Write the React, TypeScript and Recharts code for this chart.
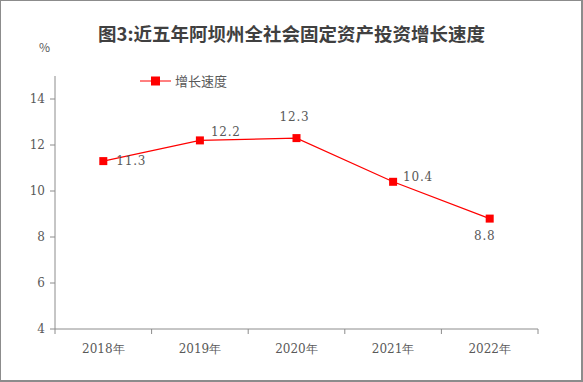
import React from 'react';
import { LineChart, Line, XAxis, YAxis, LabelList } from 'recharts';

const categories = ['2018年', '2019年', '2020年', '2021年', '2022年'];
const growth = [11.3, 12.2, 12.3, 10.4, 8.8];
const yTicks = [4, 6, 8, 10, 12, 14];
const seriesName = '增长速度';
const title = '图3:近五年阿坝州全社会固定资产投资增长速度';

const data = categories.map((c, i) => ({ idx: i, name: c, growth: growth[i] }));

const W = 583;
const H = 382;
const MARGIN = { top: 76, right: 45, bottom: 23, left: 0 };
const Y_W = 55;
const HALF_BAND = (W - MARGIN.left - Y_W - MARGIN.right) / categories.length / 2;

const AXIS_COLOR = '#8c8c8c';
const TEXT_COLOR = '#595959';
const RED = '#FF0000';
const SERIF = '"DejaVu Serif", "Liberation Serif", serif';
const SANS = '"Noto Sans CJK SC", "Noto Sans", sans-serif';

// label placement per point: [dx, dy, anchor]
const labelPlacement: [number, number, 'start' | 'middle' | 'end'][] = [
  [13, 4, 'start'],
  [11, -4, 'start'],
  [-2, -17, 'middle'],
  [10, -1, 'start'],
  [-5, 21, 'middle'],
];

const XTick = (props: any) => {
  const { x, y, payload, index } = props;
  const label = categories[payload.value];
  return (
    <g>
      <line x1={x - HALF_BAND} x2={x - HALF_BAND} y1={y} y2={y + 5} stroke={AXIS_COLOR} />
      {index === categories.length - 1 && (
        <line x1={x + HALF_BAND} x2={x + HALF_BAND} y1={y} y2={y + 5} stroke={AXIS_COLOR} />
      )}
      <text x={x} y={y + 24} textAnchor="middle" fill={TEXT_COLOR} fontFamily={SERIF} fontSize={12}>
        {label}
      </text>
    </g>
  );
};

const Dot = (props: any) => {
  const { cx, cy, index } = props;
  return <rect key={`d${index}`} x={cx - 4} y={cy - 4} width={8} height={8} fill={RED} />;
};

const PointLabel = (props: any) => {
  const { x, y, value, index } = props;
  const [dx, dy, anchor] = labelPlacement[index];
  return (
    <text
      x={x + dx}
      y={y + dy}
      textAnchor={anchor}
      fill={TEXT_COLOR}
      fontFamily={SERIF}
      fontSize={12}
      letterSpacing={0.8}
    >
      {value}
    </text>
  );
};

export default function App() {
  return (
    <div
      style={{
        position: 'absolute',
        left: 0,
        top: 0,
        width: W,
        height: H,
        background: '#fff',
      }}
    >
      <div
        style={{
          position: 'absolute',
          left: 0,
          top: 0,
          width: W,
          height: H,
          boxSizing: 'border-box',
          borderTop: '1px solid #8c8c8c',
          borderLeft: '1px solid #8c8c8c',
          borderRight: '2px solid #8c8c8c',
          borderBottom: '2px solid #8c8c8c',
          pointerEvents: 'none',
          zIndex: 2,
        }}
      />
      <div
        style={{
          position: 'absolute',
          left: 0,
          top: 20,
          width: 583,
          textAlign: 'center',
          fontFamily: SANS,
          fontWeight: 'bold',
          fontSize: 18.5,
          color: '#404040',
          lineHeight: '26px',
        }}
      >
        {title}
      </div>
      <div
        style={{
          position: 'absolute',
          left: 39,
          top: 38,
          fontFamily: SANS,
          fontSize: 12,
          color: TEXT_COLOR,
          lineHeight: '18px',
        }}
      >
        %
      </div>
      <svg
        width={100}
        height={18}
        style={{ position: 'absolute', left: 140, top: 72, zIndex: 1 }}
      >
        <line x1={0} x2={31} y1={9} y2={9} stroke={RED} strokeWidth={1} />
        <rect x={11} y={4.5} width={9} height={9} fill={RED} />
        <text x={35} y={13.5} fill={TEXT_COLOR} fontFamily={SANS} fontSize={13}>
          {seriesName}
        </text>
      </svg>
      <LineChart width={W} height={H} data={data} margin={MARGIN}>
        <XAxis
          dataKey="idx"
          type="number"
          domain={[-0.5, 4.5]}
          ticks={[0, 1, 2, 3, 4]}
          interval={0}
          tickLine={false}
          tickSize={0}
          tickMargin={0}
          height={30}
          stroke={AXIS_COLOR}
          tick={<XTick />}
        />
        <YAxis
          type="number"
          domain={[4, 15]}
          ticks={yTicks}
          interval={0}
          width={Y_W}
          stroke={AXIS_COLOR}
          tickSize={5}
          tickMargin={5}
          tick={{ fill: TEXT_COLOR, fontFamily: SERIF, fontSize: 12 }}
        />
        <Line
          type="linear"
          dataKey="growth"
          name={seriesName}
          stroke={RED}
          strokeWidth={1.2}
          dot={Dot}
          activeDot={false}
          isAnimationActive={false}
        >
          <LabelList dataKey="growth" content={PointLabel} />
        </Line>
      </LineChart>
    </div>
  );
}
